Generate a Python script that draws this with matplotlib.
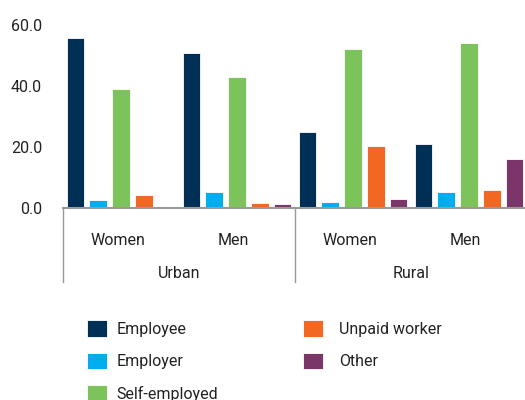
import matplotlib
matplotlib.use("Agg")
import matplotlib.pyplot as plt
import matplotlib.transforms as mtransforms
import numpy as np

plt.rcParams['font.family'] = ['Roboto', 'DejaVu Sans']

# data
groups = ["Women", "Men", "Women", "Men"]
areas = ["Urban", "Rural"]
series = ["Employee", "Employer", "Self-employed", "Unpaid worker", "Other"]
employee = [55.6, 50.8, 24.8, 21.0]
employer = [2.6, 5.2, 2.0, 5.1]
self_employed = [39.1, 42.8, 52.0, 54.1]
unpaid = [4.3, 1.6, 20.2, 5.8]
other = [0.3, 1.3, 3.0, 16.0]
colors = ["#002f56", "#00aeef", "#7dc35b", "#f26722", "#7b3669"]

values = [employee, employer, self_employed, unpaid, other]
fs = 11.5

fig = plt.figure(figsize=(5.25, 4), dpi=100)
ax = fig.add_axes([63 / 525, 192 / 400, 464 / 525, 183 / 400])

x = np.arange(len(groups))
width = 0.153
pitch = 0.196
for k, (name, vals) in enumerate(zip(series, values)):
    ax.bar(x + 0.108 + k * pitch, vals, width, color=colors[k], label=name,
           edgecolor="white", linewidth=0.6, align="center")

ax.set_xlim(0, 4)
ax.set_ylim(0, 60)
ax.set_yticks([0, 20, 40, 60])
ax.set_yticklabels(["%.1f" % v for v in [0, 20, 40, 60]])
ax.tick_params(axis="y", length=0, pad=15, labelsize=fs, colors="#222222")
ax.set_xticks([])
for s in ["top", "right", "left"]:
    ax.spines[s].set_visible(False)
ax.spines["bottom"].set_color("#999999")
ax.spines["bottom"].set_linewidth(1.5)

trans = mtransforms.blended_transform_factory(ax.transData, ax.transAxes)
for xv in [0, 2, 4]:
    ax.plot([xv, xv], [0, -0.403], transform=trans, color="#999999",
            linewidth=1.0, clip_on=False)
for i, g in enumerate(groups):
    ax.text(i + 0.47, -0.179, g, transform=trans, ha="center", va="center",
            fontsize=fs, color="#222222")
for j, a in enumerate(areas):
    ax.text(2 * j + 1, -0.357, a, transform=trans, ha="center", va="center",
            fontsize=fs, color="#222222")

handles, labels = ax.get_legend_handles_labels()
opts = dict(loc="upper left", frameon=False, fontsize=fs, handlelength=1.25,
            handleheight=1.25, labelspacing=0.98, borderaxespad=0,
            borderpad=0, labelcolor="#222222")
leg1 = fig.legend(handles[:3], labels[:3], bbox_to_anchor=(87 / 525, 1 - 320 / 400),
                  handletextpad=0.6, **opts)
leg2 = fig.legend(handles[3:], labels[3:], bbox_to_anchor=(303 / 525, 1 - 320 / 400),
                  handletextpad=1.0, **opts)

fig.savefig("out.png", dpi=100)
